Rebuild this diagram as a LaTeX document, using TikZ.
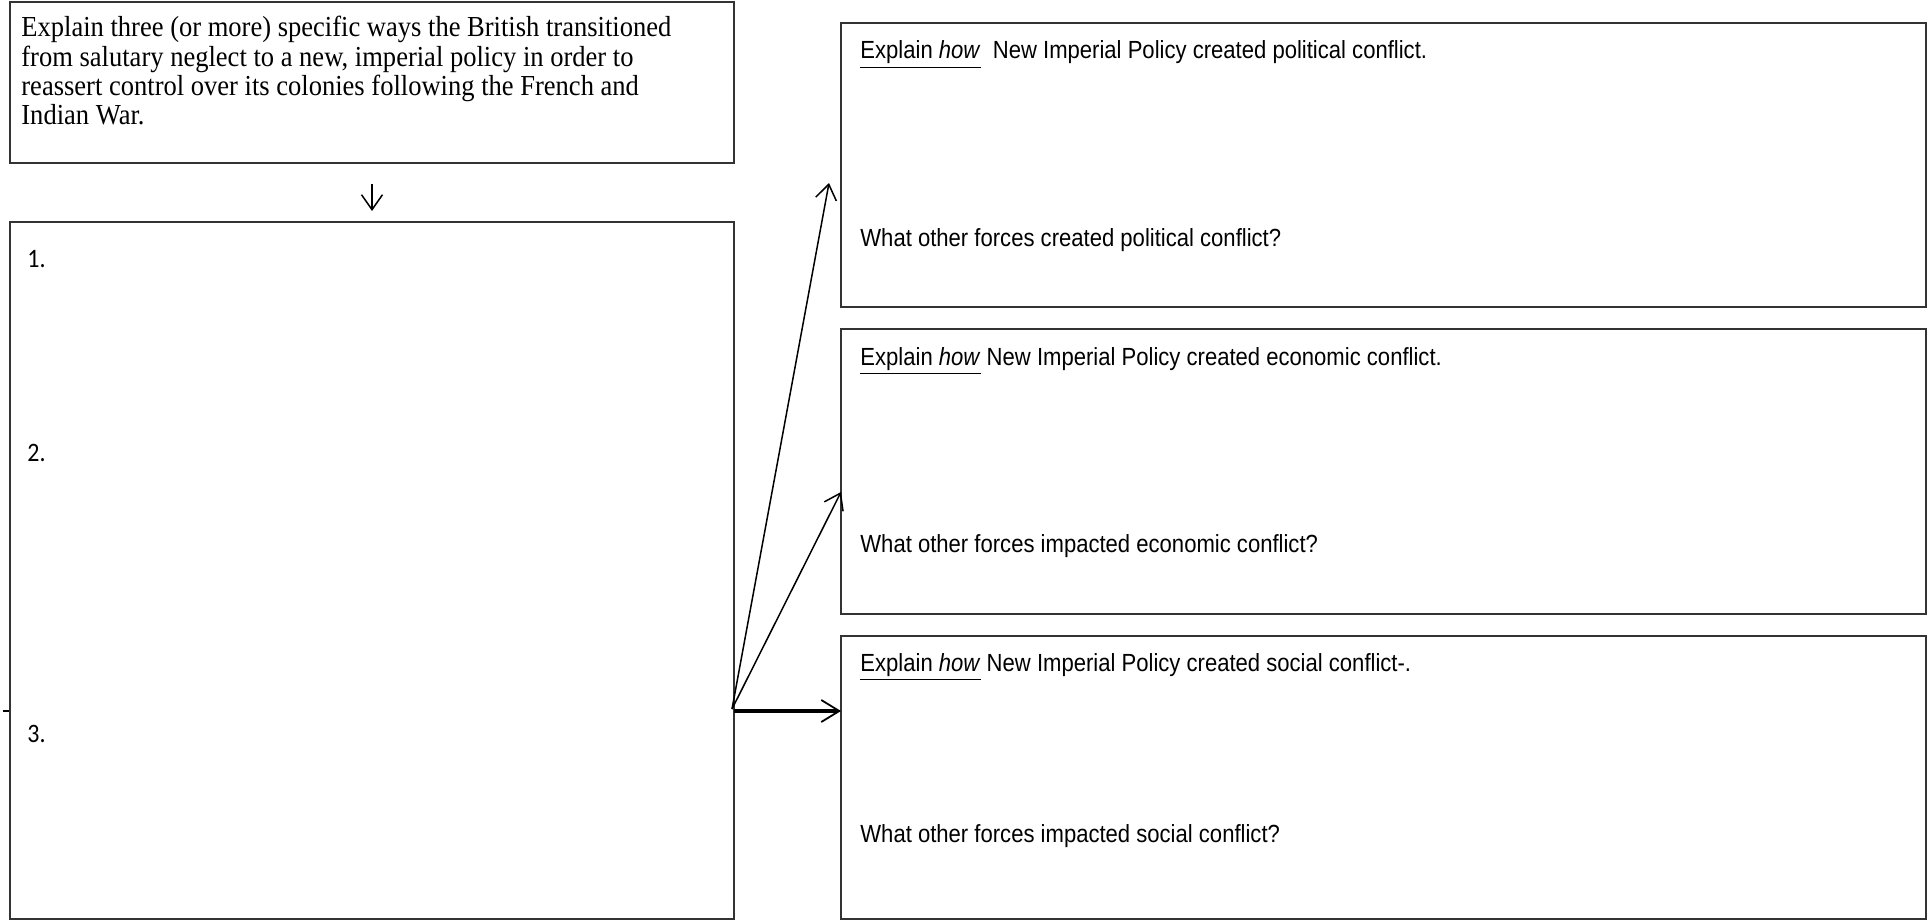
\documentclass[tikz,border=0pt]{standalone}
\usepackage{fontspec}
\setmainfont{Liberation Serif}[FakeStretch=0.915]
\newfontfamily\arialf{Liberation Sans}[FakeStretch=0.89]
\newfontfamily\calib{Carlito}[FakeStretch=0.9]
\usetikzlibrary{arrows.meta}
\begin{document}
\begin{tikzpicture}[x=0.5pt,y=-0.5pt,
  box/.style={draw=black!80, line width=0.75pt, rectangle, anchor=north west, inner sep=0pt, outer sep=0pt},
  serift/.style={anchor=north west, inner sep=0pt, align=left, font=\fontsize{14.5}{14.6}\selectfont},
  sanst/.style={anchor=base west, inner sep=0pt, font=\arialf\fontsize{12.4}{14}\selectfont},
  numt/.style={anchor=base west, inner sep=0pt, font=\calib\fontsize{13.3}{15}\selectfont},
  barb/.style={-{Straight Barb[length=7.5pt,width=10.5pt,line width=0.75pt]}, line width=0.75pt},
  thickbarb/.style={-{Straight Barb[length=9pt,width=11pt,line width=0.9pt]}, line width=2.4pt}]
\useasboundingbox (0,0) rectangle (1927,920);
\fill[white] (0,0) rectangle (1927,920);
% boxes
\node[box, minimum width=362pt, minimum height=80.5pt] (intro) at (10,2) {};
\node[box, minimum width=362pt, minimum height=348.5pt] (ways) at (10,222) {};
\node[box, minimum width=542.5pt, minimum height=142pt] (pol) at (841,23) {};
\node[box, minimum width=542.5pt, minimum height=142.5pt] (econ) at (841,329) {};
\node[box, minimum width=542.5pt, minimum height=141.5pt] (soc) at (841,636) {};
% texts
\node[serift] (introtext) at (21,16) {Explain three (or more) specific ways the British transitioned\\from salutary neglect to a new, imperial policy in order to\\reassert control over its colonies following the French and\\Indian War.};
\node[numt] (n1) at (27,267) {1.};
\node[numt] (n2) at (27,461) {2.};
\node[numt] (n3) at (27,742) {3.};
\node[sanst] (p1) at (860,59) {\underline{Explain \textit{how}}\ \ New Imperial Policy created political conflict.};
\node[sanst] (p2) at (860,246) {What other forces created political conflict?};
\node[sanst] (e1) at (860,365) {\underline{Explain \textit{how}} New Imperial Policy created economic conflict.};
\node[sanst] (e2) at (860,552) {What other forces impacted economic conflict?};
\node[sanst] (s1) at (860,671) {\underline{Explain \textit{how}} New Imperial Policy created social conflict-.};
\node[sanst] (s2) at (860,842) {What other forces impacted social conflict?};
% connectors
\draw[barb] ([yshift=-10.5pt]intro.south) -- ([yshift=5.5pt]ways.north);
\coordinate (o) at (732,709);
\coordinate (tp) at (829,183);
\coordinate (te) at (841,492);
\coordinate (ts) at (841,711);
\draw[barb] (o) -- (tp);
\draw[barb] (o) -- (te);
\draw[thickbarb] (ways.east |- ts) -- (ts);
\coordinate (m1) at (3,711);
\coordinate (m2) at (9,711);
\draw[line width=0.9pt] (m1) -- (m2);
\end{tikzpicture}
\end{document}
